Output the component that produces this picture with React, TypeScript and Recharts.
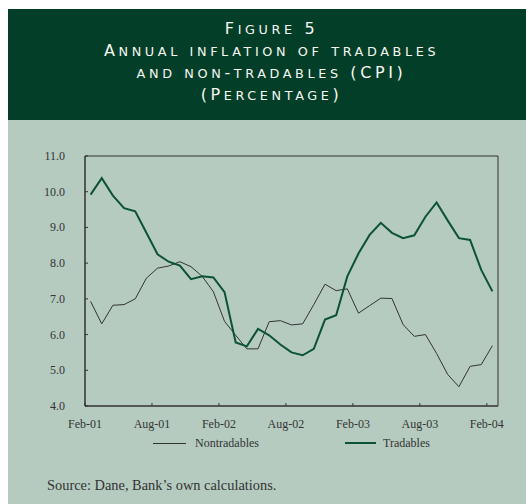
import { LineChart, Line, XAxis, YAxis, ReferenceArea } from "recharts";

// monthly observations, Feb-01 .. Feb-04
const months = [
  "Feb-01", "Mar-01", "Apr-01", "May-01", "Jun-01", "Jul-01", "Aug-01", "Sep-01", "Oct-01", "Nov-01", "Dec-01", "Jan-02",
  "Feb-02", "Mar-02", "Apr-02", "May-02", "Jun-02", "Jul-02", "Aug-02", "Sep-02", "Oct-02", "Nov-02", "Dec-02", "Jan-03",
  "Feb-03", "Mar-03", "Apr-03", "May-03", "Jun-03", "Jul-03", "Aug-03", "Sep-03", "Oct-03", "Nov-03", "Dec-03", "Jan-04",
  "Feb-04",
];

const tradables = [
  9.92, 10.38, 9.89, 9.54, 9.45, 8.85, 8.25, 8.04, 7.93, 7.55, 7.63, 7.6,
  7.19, 5.78, 5.67, 6.16, 5.98, 5.72, 5.5, 5.42, 5.6, 6.42, 6.54, 7.63,
  8.27, 8.79, 9.13, 8.85, 8.7, 8.78, 9.3, 9.7, 9.19, 8.7, 8.65, 7.81,
  7.21,
];

const nontradables = [
  6.93, 6.3, 6.82, 6.84, 7.0, 7.58, 7.86, 7.92, 8.04, 7.9, 7.63, 7.2,
  6.37, 5.98, 5.6, 5.6, 6.36, 6.39, 6.27, 6.3, 6.84, 7.41, 7.23, 7.28,
  6.6, 6.81, 7.02, 7.01, 6.28, 5.95, 6.0, 5.47, 4.88, 4.54, 5.11, 5.16,
  5.69,
];

const xTicks = [-0.5, 5.5, 11.5, 17.5, 23.5, 29.5, 35.5];
const xTickLabels = ["Feb-01", "Aug-01", "Feb-02", "Aug-02", "Feb-03", "Aug-03", "Feb-04"];
const yTicks = [4, 5, 6, 7, 8, 9, 10, 11];

const titleLines = ["Figure 5", "Annual inflation of tradables", "and non-tradables (CPI)", "(Percentage)"];

const HEADER = "#033f28";
const SAGE = "#b5cbc0";
const GREEN = "#0b5236";
const INK = "#333333";
const SERIF = "'Liberation Serif', 'Times New Roman', serif";

const data = months.map((month, i) => ({
  i,
  month,
  tradables: tradables[i],
  nontradables: nontradables[i],
}));

// small caps by hand: lowercase letters drawn as smaller capitals
function SmallCaps({ text }: { text: string }) {
  return (
    <div style={{ height: 22, lineHeight: "22px", whiteSpace: "nowrap" }}>
      {text.split("").map((ch, k) => {
        const small = /[a-z]/.test(ch);
        return (
          <span key={k} style={{ fontSize: small ? 12.8 : 16, lineHeight: "10px" }}>
            {ch.toUpperCase()}
          </span>
        );
      })}
    </div>
  );
}

function XTick({ x, y, payload, index }: any) {
  return (
    <g>
      <line x1={x} x2={x} y1={y} y2={y - 3} stroke={INK} />
      <text x={x} y={y} dy={21.5} textAnchor="middle" fontSize={12} fontFamily={SERIF} fill="#333">
        {xTickLabels[index] ?? payload.value}
      </text>
    </g>
  );
}

function YTick({ x, y, payload }: any) {
  return (
    <g>
      <line x1={x} x2={x + 3} y1={y} y2={y} stroke={INK} />
      <text x={x - 20} y={y} dy={4} textAnchor="end" fontSize={12} fontFamily={SERIF} fill="#333">
        {Number(payload.value).toFixed(1)}
      </text>
    </g>
  );
}

export default function App() {
  return (
    <>
      <style>{"body { margin: 0; overflow: hidden; }"}</style>
      <div style={{ position: "fixed", left: 8, top: 9, width: 518, height: 495, background: SAGE }}>
        <div
          style={{
            height: 111,
            background: HEADER,
            color: "#f6f6f0",
            fontFamily: "'DejaVu Sans', sans-serif",
            fontSize: 16,
            letterSpacing: 3.6,
            textAlign: "center",
            paddingTop: 9,
            paddingLeft: 9,
            boxSizing: "border-box",
          }}
        >
          {titleLines.map((line) => (
            <SmallCaps key={line} text={line} />
          ))}
        </div>
        <div style={{ position: "relative", height: 384 }}>
          <LineChart width={518} height={326} data={data} margin={{ top: 36, right: 28, left: 0, bottom: 0 }}>
            <ReferenceArea x1={-0.5} x2={36.5} y1={4} y2={11} fill="none" stroke={INK} strokeWidth={1} ifOverflow="visible" />
            <XAxis
              type="number"
              dataKey="i"
              domain={[-0.5, 36.5]}
              ticks={xTicks}
              interval={0}
              height={40}
              tickSize={0}
              tickMargin={0}
              tickLine={false}
              axisLine={{ stroke: INK }}
              tick={<XTick />}
            />
            <YAxis
              type="number"
              domain={[4, 11]}
              ticks={yTicks}
              interval={0}
              width={77}
              tickSize={0}
              tickMargin={0}
              tickLine={false}
              axisLine={{ stroke: INK }}
              tick={<YTick />}
            />
            <Line dataKey="nontradables" stroke={INK} strokeWidth={1} dot={false} isAnimationActive={false} />
            <Line dataKey="tradables" stroke={GREEN} strokeWidth={2} dot={false} isAnimationActive={false} />
          </LineChart>
          <div style={{ position: "absolute", top: 316, left: 0, width: 518, height: 14, fontFamily: SERIF, fontSize: 12, color: "#333", lineHeight: "14px" }}>
            <span style={{ position: "absolute", left: 145, top: 7, width: 33, borderTop: `1px solid ${INK}` }} />
            <span style={{ position: "absolute", left: 187, top: 0 }}>Nontradables</span>
            <span style={{ position: "absolute", left: 337, top: 6, width: 31, borderTop: `2px solid ${GREEN}` }} />
            <span style={{ position: "absolute", left: 375, top: 0 }}>Tradables</span>
          </div>
          <div style={{ position: "absolute", top: 357, left: 39, fontFamily: SERIF, fontSize: 14.4, color: "#333", lineHeight: "16px" }}>
            Source: Dane, Bank’s own calculations.
          </div>
        </div>
      </div>
    </>
  );
}
